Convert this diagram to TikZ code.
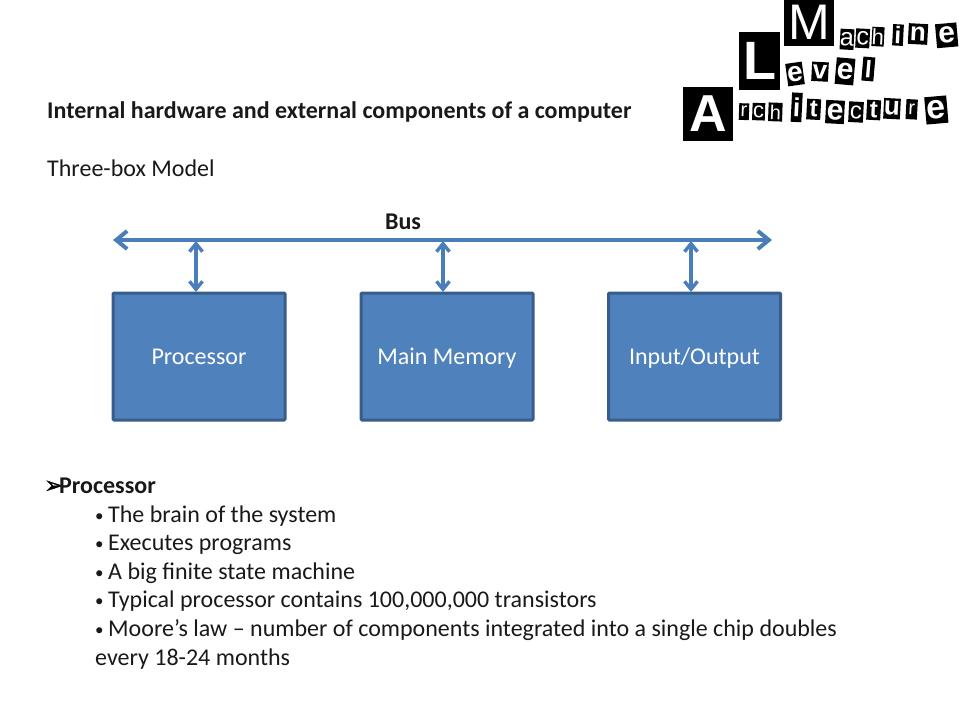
\documentclass[tikz,border=0pt]{standalone}
\usepackage{fontspec}
\setmainfont{Carlito}
\newfontfamily\symfont[FakeBold=1.5]{DejaVu Sans}
\newfontfamily\logofont{Liberation Sans}
\usetikzlibrary{arrows.meta}
\definecolor{boxfill}{HTML}{4F81BD}
\definecolor{boxline}{HTML}{385D8A}
\definecolor{arrowcol}{HTML}{4A7EBB}
\tikzset{
  txt/.style={anchor=base west,inner sep=0pt,font=\fontsize{24}{28}\selectfont,text=black!90},
  bulletmark/.style={anchor=base west,inner sep=0pt,font=\fontsize{17}{20}\selectfont,text=black!90},
  unit/.style={draw=boxline,line width=3pt,fill=boxfill,text=white,rounded corners=1pt,
    minimum width=172pt,minimum height=127pt,inner sep=0pt,text height=19pt,text depth=3pt,font=\fontsize{24}{28}\selectfont},
  buslink/.style={draw=arrowcol,line width=4pt,{Straight Barb[length=11pt,width=18pt,line width=4pt]}-{Straight Barb[length=11pt,width=18pt,line width=4pt]}},
  link/.style={draw=arrowcol,line width=3.4pt,{Straight Barb[length=8pt,width=13pt,line width=3.4pt]}-{Straight Barb[length=8pt,width=13pt,line width=3.4pt]}},
  glue/.style={fill=black,text=white,inner sep=0pt}
}
% name, zoom-x, zoom-y, zoom-w, zoom-h, rotation, font, letter
\newcommand{\cutout}[8]{\node[glue,minimum width={#4*1pt/3},minimum height={#5*1pt/3},rotate=#6,font=\logofont #7] (#1) at ({670+#2/3},{#3/3}) {#8};}
\newcommand{\sz}[1]{\fontsize{#1}{#1}\selectfont}
\begin{document}
\begin{tikzpicture}[x=1pt,y=-1pt]
\useasboundingbox (0,0) rectangle (960,720);
\node[txt,font=\fontsize{24}{28}\selectfont\bfseries] (title) at (47,118) {Internal hardware and external components of a computer};
\node[txt] (model) at (47,176) {Three-box Model};
\node[txt,font=\fontsize{24}{28}\selectfont\bfseries,anchor=base] (buslabel) at (403,229) {Bus};

\node[unit] (cpu) at (199,356.5) {Processor};
\node[unit] (mem) at (447,356.5) {Main Memory};
\node[unit] (io) at (694.5,356.5) {Input/Output};

\coordinate (busl) at (113,240);
\coordinate (busr) at (772,240);
\coordinate (tapa) at (196,241);
\coordinate (tapb) at (443,241);
\coordinate (tapc) at (691,241);
\coordinate (enda) at (196,292);
\coordinate (endb) at (443,292);
\coordinate (endc) at (691,292);
\draw[buslink] (busl) -- (busr);
\draw[link] (tapa) -- (enda);
\draw[link] (tapb) -- (endb);
\draw[link] (tapc) -- (endc);

\node[anchor=base west,inner sep=0pt,font=\symfont\fontsize{23}{26}\selectfont] (mark) at (44,493) {➢};
\node[txt,font=\fontsize{24}{28}\selectfont\bfseries] (head) at (59,493) {Processor};
\node[bulletmark] (b1) at (95,521) {•};
\node[txt] (l1) at (108,522) {The brain of the system};
\node[bulletmark] (b2) at (95,549) {•};
\node[txt] (l2) at (108,550) {Executes programs};
\node[bulletmark] (b3) at (95,578) {•};
\node[txt] (l3) at (108,579) {A big finite state machine};
\node[bulletmark] (b4) at (95,606) {•};
\node[txt] (l4) at (108,607) {Typical processor contains 100,000,000 transistors};
\node[bulletmark] (b5) at (95,635) {•};
\node[txt] (l5) at (108,636) {Moore’s law – number of components integrated into a single chip doubles};
\node[txt] (l6) at (95,665) {every 18-24 months};

% logo
\cutout{m0}{417}{68}{150}{140}{0}{\sz{50}}{M}
\cutout{m1}{531}{118}{38}{62}{-3}{\sz{25}}{a}
\cutout{m2}{578}{115}{42}{58}{-3}{\sz{25}}{c}
\cutout{m3}{624}{110}{36}{58}{-3}{\sz{22}}{h}
\cutout{m4}{684}{105}{32}{64}{-3}{\bfseries\sz{24}}{i}
\cutout{m5}{744}{102}{58}{62}{-3}{\bfseries\sz{26}}{n}
\cutout{m6}{830}{106}{64}{72}{5}{\bfseries\sz{30}}{e}
\cutout{l0}{269}{183}{124}{172}{0}{\bfseries\sz{54}}{L}
\cutout{l1a}{375}{222}{50}{68}{8}{\bfseries\sz{28}}{e}
\cutout{l2a}{450}{215}{50}{58}{-3}{\bfseries\sz{26}}{v}
\cutout{l3a}{525}{214}{56}{80}{-5}{\bfseries\sz{30}}{e}
\cutout{l4a}{595}{207}{36}{72}{-5}{\bfseries\sz{24}}{l}
\cutout{a0}{115}{341}{150}{162}{0}{\bfseries\sz{52}}{A}
\cutout{a1}{222}{335}{30}{50}{-2}{\sz{20}}{r}
\cutout{a2}{266}{335}{38}{52}{-2}{\sz{22}}{c}
\cutout{a3}{316}{336}{42}{56}{-2}{\sz{20}}{h}
\cutout{a4}{380}{322}{32}{88}{-3}{\bfseries\sz{26}}{i}
\cutout{a5}{431}{328}{42}{62}{-3}{\bfseries\sz{24}}{t}
\cutout{a6}{495}{336}{56}{70}{-3}{\bfseries\sz{30}}{e}
\cutout{a7}{558}{336}{44}{62}{-3}{\sz{24}}{c}
\cutout{a8}{611}{330}{42}{60}{-3}{\bfseries\sz{24}}{t}
\cutout{a9}{666}{326}{50}{62}{-3}{\bfseries\sz{26}}{u}
\cutout{a10}{725}{328}{34}{60}{-3}{\sz{20}}{r}
\cutout{a11}{799}{330}{66}{82}{5}{\bfseries\sz{34}}{e}
\end{tikzpicture}
\end{document}
